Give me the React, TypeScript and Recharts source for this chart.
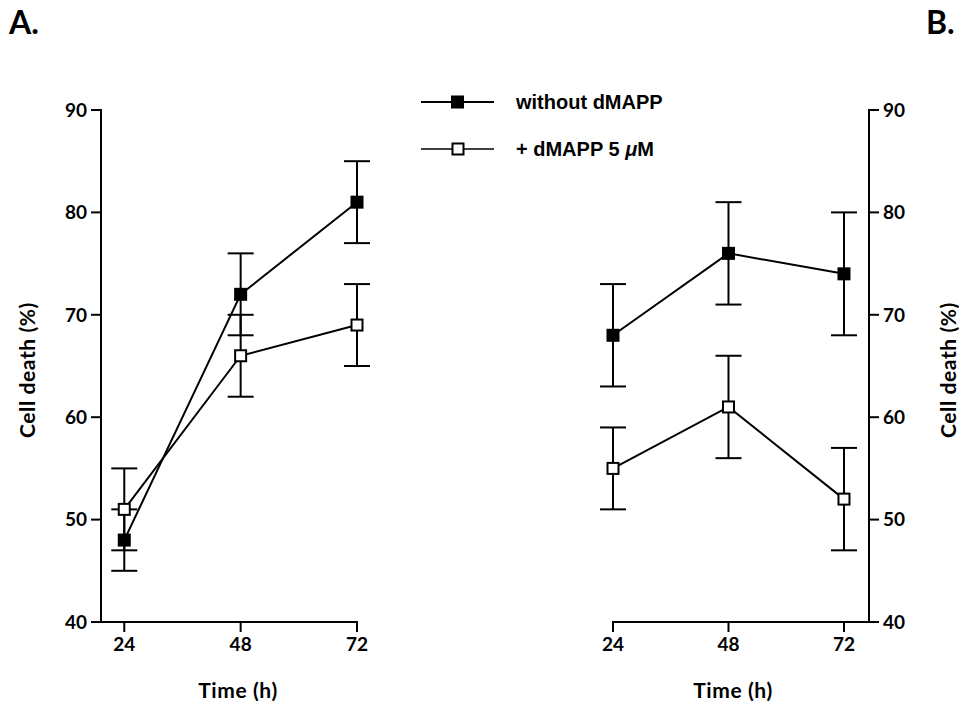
import { LineChart, Line, XAxis, YAxis, ErrorBar } from "recharts";

const hours = [24, 48, 72];
const yTicks = [40, 50, 60, 70, 80, 90];

// panel A
const aWithout = [48, 72, 81];
const aWithoutErr = [3, 4, 4];
const aWith = [51, 66, 69];
const aWithErr = [4, 4, 4];

// panel B
const bWithout = [68, 76, 74];
const bWithoutErr = [5, 5, 6];
const bWith = [55, 61, 52];
const bWithErr = [4, 5, 5];

const legendLabels = ["without dMAPP", "+ dMAPP 5 "];

const build = (w: number[], wErr: number[], d: number[], dErr: number[]) =>
  hours.map((h, i) => ({ h, w: w[i], wErr: wErr[i], d: d[i], dErr: dErr[i] }));

const aData = build(aWithout, aWithoutErr, aWith, aWithErr);
const bData = build(bWithout, bWithoutErr, bWith, bWithErr);

const tickFont = { fontSize: 19, fontWeight: 700, fill: "#000", fontFamily: "Lato" };
const axisStyle = { stroke: "#000", strokeWidth: 2, strokeLinecap: "square" as const };
const tickStyle = { stroke: "#000", strokeWidth: 2 };

const FilledSquare = (props: any) => {
  const { cx, cy, index } = props;
  return <rect key={"f" + index} x={cx - 6.5} y={cy - 6.5} width={13} height={13} fill="#000" />;
};

const OpenSquare = (props: any) => {
  const { cx, cy, index } = props;
  return (
    <rect key={"o" + index} x={cx - 5.5} y={cy - 5.5} width={11} height={11} fill="#fff" stroke="#000" strokeWidth={2} />
  );
};

function Panel({ data, side }: { data: any[]; side: "left" | "right" }) {
  const isLeft = side === "left";
  return (
    <LineChart
      width={isLeft ? 480 : 479}
      height={705}
      data={data}
      margin={isLeft ? { top: 110, right: 123, bottom: 53, left: 51 } : { top: 110, right: 40, bottom: 53, left: 133 }}
    >
      <XAxis
        dataKey="h"
        type="number"
        domain={isLeft ? [19.2, 72] : [24, 77.2]}
        ticks={hours}
        interval={0}
        height={30}
        tickSize={10}
        tickMargin={6}
        axisLine={axisStyle}
        tickLine={tickStyle}
        tick={tickFont}
      />
      <YAxis
        orientation={isLeft ? "left" : "right"}
        type="number"
        domain={[40, 90]}
        ticks={yTicks}
        interval={0}
        width={50}
        tickSize={10}
        tickMargin={4}
        axisLine={axisStyle}
        tickLine={tickStyle}
        tick={tickFont}
      />
      <Line
        dataKey="w"
        stroke="#000"
        strokeWidth={2}
        type="linear"
        dot={FilledSquare}
        activeDot={false}
        isAnimationActive={false}
      >
        <ErrorBar dataKey="wErr" width={13} stroke="#000" strokeWidth={2} direction="y" />
      </Line>
      <Line
        dataKey="d"
        stroke="#000"
        strokeWidth={2}
        type="linear"
        dot={OpenSquare}
        activeDot={false}
        isAnimationActive={false}
      >
        <ErrorBar dataKey="dErr" width={13} stroke="#000" strokeWidth={2} direction="y" />
      </Line>
    </LineChart>
  );
}

const labelFont = { fontFamily: "Lato", fontWeight: 700, fontSize: 21, letterSpacing: 0.6, fill: "#000" };
const legendFont = { fontFamily: "Liberation Sans", fontWeight: 700, fontSize: 20 };

export default function App() {
  return (
    <div style={{ position: "absolute", left: 0, top: 0, width: 959, height: 705, background: "#fff" }}>
      <div style={{ position: "absolute", left: 0, top: 0 }}>
        <Panel data={aData} side="left" />
      </div>
      <div style={{ position: "absolute", left: 480, top: 0 }}>
        <Panel data={bData} side="right" />
      </div>
      <svg width={959} height={705} style={{ position: "absolute", left: 0, top: 0, pointerEvents: "none" }}>
        <text x={9} y={34} style={{ fontFamily: "Lato", fontWeight: 700, fontSize: 32 }} fill="#000">
          A.
        </text>
        <text x={926} y={34} style={{ fontFamily: "Lato", fontWeight: 700, fontSize: 32 }} fill="#000">
          B.
        </text>
        <text transform="translate(26,370) rotate(-90)" textAnchor="middle" dominantBaseline="central" style={labelFont}>
          Cell death (%)
        </text>
        <text transform="translate(947,370) rotate(-90)" textAnchor="middle" dominantBaseline="central" style={labelFont}>
          Cell death (%)
        </text>
        <text x={238} y={689} textAnchor="middle" dominantBaseline="central" style={labelFont}>
          Time (h)
        </text>
        <text x={733} y={689} textAnchor="middle" dominantBaseline="central" style={labelFont}>
          Time (h)
        </text>
        {/* legend */}
        <line x1={421} y1={102} x2={494} y2={102} stroke="#000" strokeWidth={2} />
        <rect x={451} y={95.5} width={13} height={13} fill="#000" />
        <text x={516} y={102} dominantBaseline="central" style={legendFont}>
          {legendLabels[0]}
        </text>
        <line x1={421} y1={149} x2={494} y2={149} stroke="#000" strokeWidth={1.5} />
        <rect x={452.5} y={143.5} width={11} height={11} fill="#fff" stroke="#000" strokeWidth={2} />
        <text x={516} y={149} dominantBaseline="central" style={legendFont}>
          {legendLabels[1]}
          <tspan fontStyle="italic">μ</tspan>M
        </text>
      </svg>
    </div>
  );
}
